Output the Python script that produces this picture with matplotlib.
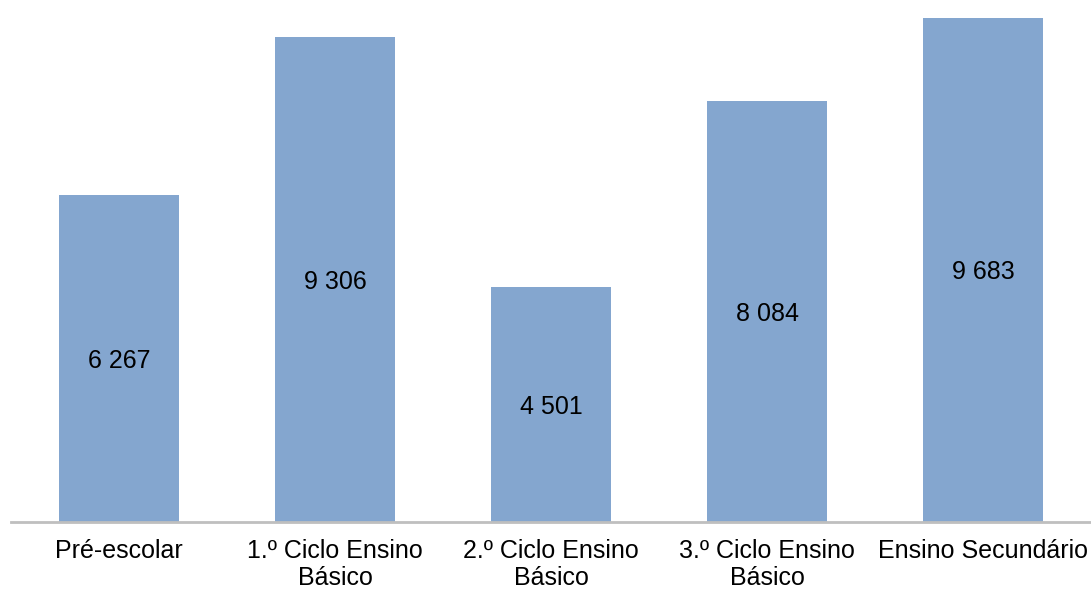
from matplotlib import pyplot as plt
import numpy as np

# Data
categories = ["Pré-escolar", "1.º Ciclo Ensino\nBásico", "2.º Ciclo Ensino\nBásico",
              "3.º Ciclo Ensino\nBásico", "Ensino Secundário"]
values = [6267, 9306, 4501, 8084, 9683]
value_labels = ["6 267", "9 306", "4 501", "8 084", "9 683"]

plt.rcParams['font.family'] = ['Liberation Sans', 'DejaVu Sans']

fig = plt.figure(figsize=(10.91, 5.90), dpi=100)
ax = fig.add_axes([11 / 1091, 68 / 590, 1080 / 1091, 521 / 590])

x = np.arange(len(categories))
bars = ax.bar(x, values, width=0.553, color='#84A6CF', zorder=2)

# Value labels in the middle of each bar
for xi, v, lab in zip(x, values, value_labels):
    ax.text(xi, v / 2, lab, ha='center', va='center_baseline', fontsize=18, color='black')

ax.set_xlim(-0.5, len(categories) - 0.5)
ax.set_ylim(0, 10000)
ax.set_xticks(x)
ax.set_xticklabels(categories, fontsize=18, linespacing=1.2)
ax.tick_params(axis='x', length=0, pad=12)
ax.set_yticks([])

for side in ['top', 'right', 'left']:
    ax.spines[side].set_visible(False)
ax.spines['bottom'].set_color('#BFBFBF')
ax.spines['bottom'].set_linewidth(2)

plt.savefig('out.png', dpi=100)
